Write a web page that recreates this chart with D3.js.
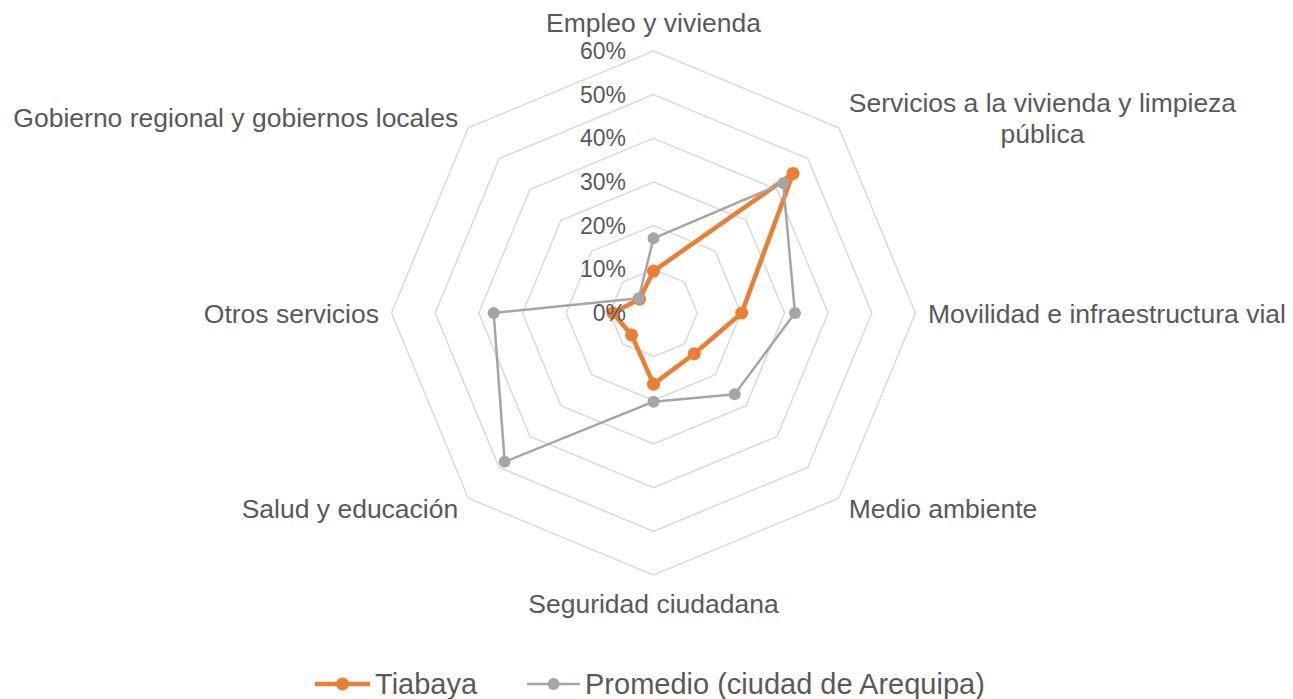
<!DOCTYPE html>
<html>
<head>
<meta charset="utf-8">
<script src="https://cdn.jsdelivr.net/npm/d3@7"></script>
<style>
  body { margin: 0; background: #fff; }
  text { font-family: "Liberation Sans", Arial, sans-serif; fill: #595959; }
</style>
</head>
<body>
<div id="chart"></div>
<script>
// axes, clockwise from the top
var categories = [
  ["Empleo y vivienda"],
  ["Servicios a la vivienda y limpieza", "pública"],
  ["Movilidad e infraestructura vial"],
  ["Medio ambiente"],
  ["Seguridad ciudadana"],
  ["Salud y educación"],
  ["Otros servicios"],
  ["Gobierno regional y gobiernos locales"]
];
var tiabaya  = [0.096, 0.452, 0.202, 0.132, 0.163, 0.071, 0.093, 0.045];
var promedio = [0.171, 0.420, 0.324, 0.263, 0.203, 0.482, 0.366, 0.048];
var ticks = [0, 0.1, 0.2, 0.3, 0.4, 0.5, 0.6];
var seriesNames = ["Tiabaya", "Promedio (ciudad de Arequipa)"];

var width = 1293, height = 699;
var cx = 653.5, cy = 313;

var svg = d3.select("#chart")
    .append("svg")
    .attr("width", width)
    .attr("height", height);

var r = d3.scaleLinear().domain([0, 0.6]).range([0, 262]);
var angle = d3.scaleLinear().domain([0, categories.length]).range([0, 2 * Math.PI]);

function pt(i, v) {
    var a = angle(i);
    return [cx + r(v) * Math.sin(a), cy - r(v) * Math.cos(a)];
}

var g = svg.append("g");

// grid octagons
ticks.forEach(function (t) {
    var pts = categories.map(function (c, i) { return pt(i, t); });
    g.append("polygon")
        .attr("points", pts.map(function (p) { return p.join(","); }).join(" "))
        .attr("fill", "none")
        .attr("stroke", "#d9d9d9")
        .attr("stroke-width", 1.5);
});

// axis labels
var lineH = 31;
categories.forEach(function (lines, i) {
    var v = pt(i, 0.6);
    var a = Math.round(angle(i) * 180 / Math.PI);
    var x = v[0], yc = v[1], anchor = "middle";
    if (a == 0) { yc -= 28.5; }
    else if (a == 180) { yc += 28.5; }
    else if (a == 90) { x += 12.5; anchor = "start"; }
    else if (a == 270) { x -= 12.5; anchor = "end"; }
    else {
        x += (a < 180 ? 10 : -10);
        yc += (a == 45 || a == 315 ? -10 : 10);
        anchor = a < 180 ? "start" : "end";
    }
    var t = g.append("text").style("font-size", "26.5px");
    lines.forEach(function (l, j) {
        t.append("tspan")
            .attr("x", x)
            .attr("y", yc - (lines.length - 1) * lineH / 2 + 9.5 + j * lineH)
            .text(l);
    });
    if (lines.length > 1) {
        // centre the wrapped lines inside the block
        var w = d3.max(t.selectAll("tspan").nodes(), function (n) { return n.getComputedTextLength(); });
        var mid = anchor == "start" ? x + w / 2 : (anchor == "end" ? x - w / 2 : x);
        t.selectAll("tspan").attr("x", mid);
        anchor = "middle";
    }
    t.attr("text-anchor", anchor);
});

var series = [
    { name: seriesNames[0], values: tiabaya, color: "#ed7d31", lw: 4.5, mr: 6.5 },
    { name: seriesNames[1], values: promedio, color: "#a5a5a5", lw: 2.5, mr: 6 }
];

var line = d3.line().curve(d3.curveLinearClosed);

series.forEach(function (s) {
    var pts = s.values.map(function (v, i) { return pt(i, v); });
    g.append("path")
        .attr("d", line(pts))
        .attr("fill", "none")
        .attr("stroke", s.color)
        .attr("stroke-width", s.lw)
        .attr("stroke-linejoin", "round");
    g.selectAll(null)
        .data(pts)
        .enter()
        .append("circle")
        .attr("cx", function (d) { return d[0]; })
        .attr("cy", function (d) { return d[1]; })
        .attr("r", s.mr)
        .attr("fill", s.color);
});

// tick labels sit on top of the series
g.selectAll(".tick")
    .data(ticks)
    .enter()
    .append("text")
    .attr("class", "tick")
    .attr("x", 626)
    .attr("y", function (d) { return cy - r(d) + 8; })
    .attr("text-anchor", "end")
    .style("font-size", "23px")
    .text(function (d) { return d3.format(".0%")(d); });

// legend
var legend = [
    { x0: 315, x1: 370, tx: 375 },
    { x0: 527, x1: 580, tx: 585 }
];
series.forEach(function (s, i) {
    var L = legend[i];
    var lg = svg.append("g");
    lg.append("line")
        .attr("x1", L.x0).attr("x2", L.x1)
        .attr("y1", 684).attr("y2", 684)
        .attr("stroke", s.color)
        .attr("stroke-width", s.lw);
    lg.append("circle")
        .attr("cx", (L.x0 + L.x1) / 2).attr("cy", 684)
        .attr("r", s.mr)
        .attr("fill", s.color);
    lg.append("text")
        .attr("x", L.tx).attr("y", 694)
        .style("font-size", "29px")
        .text(s.name);
});
</script>
</body>
</html>
